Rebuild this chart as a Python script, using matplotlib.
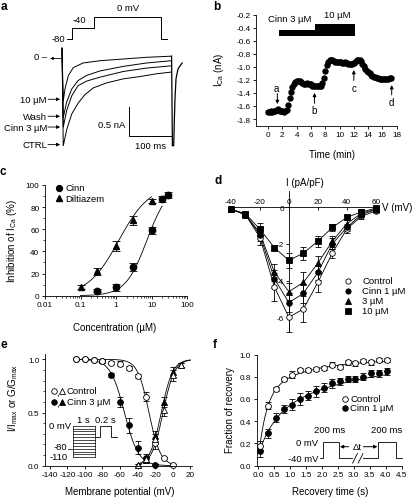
import numpy as np
import matplotlib
matplotlib.use('Agg')
import matplotlib.pyplot as plt
from matplotlib.ticker import MultipleLocator, LogLocator, NullFormatter, FixedLocator, FixedFormatter

plt.rcParams['font.family'] = ['Liberation Sans', 'DejaVu Sans']
plt.rcParams['mathtext.fontset'] = 'custom'
plt.rcParams['mathtext.rm'] = 'Liberation Sans'
plt.rcParams['mathtext.it'] = 'Liberation Sans:italic'
plt.rcParams['axes.unicode_minus'] = False
plt.rcParams['axes.linewidth'] = 0.6
for a in ['xtick', 'ytick']:
    plt.rcParams[a + '.major.width'] = 0.6
    plt.rcParams[a + '.minor.width'] = 0.5
    plt.rcParams[a + '.major.size'] = 2.5
    plt.rcParams[a + '.minor.size'] = 1.5
    plt.rcParams[a + '.labelsize'] = 5.9
    plt.rcParams[a + '.major.pad'] = 1.5

# ------------------------------------------------------------------ DATA
# panel a : current traces (time ms, current nA)
a_ctrl_t = [0, 3, 11, 23, 38, 54, 74, 106, 145, 184, 224, 259]
a_ctrl_i = [0.19, -1.53, -1.25, -0.97, -0.78, -0.63, -0.51, -0.42, -0.35, -0.31, -0.26, -0.23]
a_cinn3_t = [0, 3, 11, 23, 38, 58, 90, 145, 200, 259]
a_cinn3_i = [0.19, -1.20, -0.91, -0.65, -0.47, -0.39, -0.32, -0.22, -0.16, -0.12]
a_wash_t = [0, 3, 11, 23, 38, 58, 90, 145, 200, 259]
a_wash_i = [0.19, -1.03, -0.76, -0.53, -0.38, -0.29, -0.21, -0.13, -0.07, -0.03]
a_c10_t = [0, 3, 7, 15, 27, 50, 90, 145, 200, 259]
a_c10_i = [0.19, -0.74, -0.53, -0.29, -0.15, -0.07, -0.03, 0.0, 0.03, 0.05]
a_tail_t = [259, 261, 264, 265.5, 267, 269.5, 274, 279, 284]
a_tail_i = [0.05, -1.53, -1.53, -1.10, -0.71, -0.35, -0.18, -0.12, -0.07]
a_labels = ['10 \u00b5M', 'Wash', 'Cinn 3 \u00b5M', 'CTRL']
a_label_levels = [-0.71, -1.01, -1.20, -1.51]
a_prot_t = [0, 13, 13, 65, 65, 223, 223, 236]
a_prot_v = [-80, -80, -40, -40, 0, 0, -80, -80]

# panel b : time course
b_time = [0.0, 0.2, 0.4, 0.6, 0.8, 1.0, 1.2, 1.4, 1.6, 1.8, 2.0, 2.2, 2.4, 2.6, 2.8,
          3.0, 3.2, 3.4, 3.6, 3.8, 4.0, 4.2, 4.4, 4.6, 4.8, 5.0, 5.2, 5.4, 5.6, 5.8,
          6.0, 6.2, 6.4, 6.6, 6.8, 7.0, 7.2, 7.4, 7.6, 7.8, 8.0, 8.2, 8.4, 8.6, 8.8,
          9.0, 9.2, 9.4, 9.6, 9.8, 10.0, 10.2, 10.4, 10.6, 10.8, 11.0, 11.2, 11.4, 11.6, 11.8,
          12.0, 12.2, 12.4, 12.6, 12.8, 13.0, 13.2, 13.4, 13.6, 13.8, 14.0, 14.2, 14.4, 14.6, 14.8,
          15.0, 15.2, 15.4, 15.6, 15.8, 16.0, 16.2, 16.4, 16.6, 16.8, 17.0, 17.2]
b_ica = [-1.69, -1.69, -1.68, -1.69, -1.68, -1.67, -1.66, -1.65, -1.67, -1.68, -1.68, -1.69, -1.68, -1.66, -1.58,
         -1.48, -1.38, -1.31, -1.26, -1.23, -1.21, -1.21, -1.22, -1.24, -1.25, -1.26, -1.26, -1.25, -1.26, -1.27,
         -1.27, -1.29, -1.30, -1.30, -1.30, -1.30, -1.29, -1.29, -1.25, -1.17, -1.06, -0.97, -0.92, -0.90, -0.90,
         -0.90, -0.91, -0.92, -0.92, -0.93, -0.93, -0.93, -0.94, -0.94, -0.93, -0.94, -0.95, -0.95, -0.95, -0.95,
         -0.94, -0.92, -0.90, -0.89, -0.89, -0.91, -0.95, -0.99, -1.03, -1.06, -1.08, -1.10, -1.12, -1.14, -1.15,
         -1.16, -1.17, -1.17, -1.18, -1.18, -1.18, -1.19, -1.18, -1.18, -1.18, -1.17, -1.17]
b_drug_start = [1.55, 6.6]
b_drug_end = [6.6, 12.15]
b_drug_top = [-0.44, -0.34]
b_drug_bottom = -0.53
b_mark_labels = ['a', 'b', 'c', 'd']
b_mark_time = [1.3, 6.5, 12.0, 17.3]

# panel c : dose response
c_cinn_conc = [0.3, 1, 3, 10, 20, 30]
c_cinn_inh = [4.5, 7.5, 26, 59, 87.5, 91]
c_cinn_err = [1.5, 3.5, 3.5, 3.5, 3, 3]
c_dil_conc = [0.1, 0.3, 1, 3, 10]
c_dil_inh = [8, 22, 45, 68, 85.5]
c_dil_err = [1.5, 3, 4.5, 4, 1.5]
c_cinn_ic50, c_cinn_hill = 7.4, 1.45
c_dil_ic50, c_dil_hill = 1.2, 1.0

# panel d : I-V
d_v = [-40, -30, -20, -10, 0, 10, 20, 30, 40, 50, 60]
d_ctrl = [-0.1, -0.4, -1.65, -4.35, -6.0, -5.55, -4.1, -2.5, -1.18, -0.5, -0.2]
d_ctrl_err = [0.1, 0.15, 0.4, 0.75, 0.8, 0.7, 0.5, 0.25, 0.2, 0.15, 0.1]
d_c1 = [-0.1, -0.4, -1.5, -3.9, -5.2, -4.7, -3.55, -2.0, -1.1, -0.4, -0.13]
d_c1_err = [0.1, 0.15, 0.35, 0.5, 0.5, 0.5, 0.4, 0.3, 0.2, 0.15, 0.1]
d_c3 = [-0.1, -0.4, -1.4, -3.55, -4.6, -4.1, -3.05, -1.85, -0.9, -0.33, -0.1]
d_c3_err = [0.1, 0.15, 0.3, 0.45, 0.45, 0.55, 0.4, 0.3, 0.2, 0.15, 0.1]
d_c10 = [-0.1, -0.35, -1.2, -2.2, -2.9, -2.5, -1.85, -1.1, -0.55, -0.25, -0.05]
d_c10_err = [0.1, 0.15, 0.35, 0.15, 0.4, 0.35, 0.3, 0.2, 0.15, 0.15, 0.1]
d_legend = ['Control', 'Cinn 1 \u00b5M', '3 \u00b5M', '10 \u00b5M']

# panel e : steady-state inactivation / activation
e_inact_v = [-110, -100, -90, -80, -70, -60, -50, -40, -30, -20, -10, 0]
e_inact_ctrl = [1.0, 1.0, 0.99, 0.98, 0.97, 0.96, 0.92, 0.84, 0.65, 0.21, 0.07, 0.005]
e_inact_ctrl_err = [0.01, 0.01, 0.01, 0.01, 0.01, 0.02, 0.02, 0.02, 0.04, 0.05, 0.01, 0.01]
e_inact_cinn_v = [-110, -100, -90, -80, -70, -60, -50, -40, -30, -20]
e_inact_cinn = [1.0, 1.0, 0.99, 0.98, 0.85, 0.60, 0.38, 0.17, 0.07, 0.01]
e_inact_cinn_err = [0.01, 0.01, 0.01, 0.01, 0.02, 0.05, 0.07, 0.06, 0.04, 0.01]
e_act_v = [-40, -30, -20, -10, 0, 10]
e_act_ctrl = [0.01, 0.06, 0.25, 0.52, 0.85, 0.95]
e_act_ctrl_err = [0.01, 0.02, 0.05, 0.05, 0.05, 0.02]
e_act_cinn = [0.01, 0.05, 0.28, 0.60, 0.88, 0.95]
e_act_cinn_err = [0.01, 0.02, 0.05, 0.05, 0.05, 0.02]
e_fit_inact_ctrl = (-27.0, 6.5)
e_fit_inact_cinn = (-55.0, 8.0)
e_fit_act_ctrl = (-11.0, 6.5)
e_fit_act_cinn = (-13.0, 6.5)
e_prot_steps = [-110, -100, -90, -80, -70, -60, -50, -40, -30, -20, -10, 0]
e_prot_t = [1.0, 1.23, 1.23, 1.72, 1.72, 2.0]
e_prot_v = [-40, -40, 0, 0, -40, -40]

# panel f : recovery from inactivation
f_t = [0.05, 0.3, 0.55, 0.8, 1.05, 1.3, 1.55, 1.8, 2.05, 2.3, 2.55, 2.8, 3.05, 3.3, 3.55, 3.8, 4.05]
f_ctrl = [0.18, 0.54, 0.69, 0.78, 0.82, 0.86, 0.86, 0.87, 0.88, 0.91, 0.89, 0.93, 0.92, 0.94, 0.93, 0.95, 0.95]
f_ctrl_err = [0.04, 0.03, 0.02, 0.02, 0.03, 0.02, 0.02, 0.02, 0.02, 0.02, 0.02, 0.02, 0.02, 0.02, 0.02, 0.02, 0.02]
f_cinn = [0.13, 0.29, 0.43, 0.51, 0.55, 0.60, 0.63, 0.67, 0.70, 0.74, 0.76, 0.78, 0.78, 0.80, 0.83, 0.83, 0.85]
f_cinn_err = [0.05, 0.04, 0.04, 0.04, 0.05, 0.05, 0.04, 0.05, 0.04, 0.04, 0.03, 0.03, 0.03, 0.03, 0.03, 0.03, 0.03]
f_fit_ctrl = (0.96, 0.60, 0.25, 0.30, 1.5)
f_fit_cinn = (0.95, 0.35, 0.50, 0.50, 3.0)
f_prot_t = [-37, 0, 0, 200, 200, 358]
f_prot_t2 = [504, 692, 692, 910, 910, 985]
f_prot_v = [-40, -40, 0, 0, -40, -40]

# ------------------------------------------------------------------ FIGURE
W, H = 415, 502
fig = plt.figure(figsize=(W / 100, H / 100), dpi=100)


def rect(l, t, r, b):
    return [l / W, 1 - b / H, (r - l) / W, (b - t) / H]


LW = 0.6
FS_LAB = 7.0
FS_TXT = 6.8

# ---------------- panel a
axa = fig.add_axes(rect(40, 45, 200, 160))
axa.set_xlim(-52, 326.2)
axa.set_ylim(-1.7637, 0.2646)
axa.axis('off')
for tt, ii in [(a_ctrl_t, a_ctrl_i), (a_cinn3_t, a_cinn3_i), (a_wash_t, a_wash_i), (a_c10_t, a_c10_i)]:
    axa.plot(tt, ii, color='k', lw=0.7, clip_on=False)
axa.plot(a_tail_t, a_tail_i, color='k', lw=0.9, clip_on=False)
for lab, lev in zip(a_labels, a_label_levels):
    axa.text(-35.5, lev, lab, ha='right', va='center', fontsize=FS_TXT)
    axa.annotate('', xy=(-4.5, lev), xytext=(-33, lev),
                 arrowprops=dict(arrowstyle='-|>', lw=0.6, color='k', mutation_scale=5,
                                 shrinkA=0, shrinkB=0))
axa.text(-35.5, 0.05, '0 \u2013', ha='right', va='center', fontsize=FS_TXT)
axa.annotate('', xy=(-28, 0.01), xytext=(-2, 0.01),
             arrowprops=dict(arrowstyle='-|>', lw=0.6, color='k', mutation_scale=4,
                             shrinkA=0, shrinkB=0))
# scale bar 0.5 nA / 100 ms
axa.plot([159, 159, 259], [-0.853, -1.353, -1.353], color='k', lw=0.7)
axa.text(149, -1.15, '0.5 nA', ha='right', va='center', fontsize=FS_TXT)
axa.text(209, -1.53, '100 ms', ha='center', va='center', fontsize=FS_TXT)

axp = fig.add_axes(rect(60, 5, 175, 45))
axp.set_xlim(-15.8, 256)
axp.set_ylim(-98.5, 49)
axp.axis('off')
axp.plot(a_prot_t, a_prot_v, color='k', lw=0.7)
axp.text(-4, -80, '-80', ha='right', va='center', fontsize=FS_TXT)
axp.text(29, -9, '-40', ha='center', va='center', fontsize=FS_TXT)
axp.text(145, 37, '0 mV', ha='center', va='center', fontsize=FS_TXT)

# ---------------- panel b
axb = fig.add_axes(rect(256, 15.5, 396.7, 126.6))
axb.set_xlim(-1.69, 18)
axb.set_ylim(-1.9, -0.2)
for s in ['top', 'right']:
    axb.spines[s].set_visible(False)
axb.spines['left'].set_bounds(-1.9, -0.2)
axb.set_xticks(np.arange(0, 19, 2))
axb.set_yticks(np.arange(-1.8, -0.15, 0.2))
axb.yaxis.set_major_formatter(plt.FuncFormatter(lambda v, p: '%.1f' % v))
axb.plot(b_time, b_ica, 'o', color='k', ms=4.6, mew=0)
for s0, s1, top in zip(b_drug_start, b_drug_end, b_drug_top):
    axb.bar(s0, top - b_drug_bottom, width=s1 - s0, bottom=b_drug_bottom, align='edge',
            color='k', lw=0)
axb.text(2.98, -0.265, 'Cinn 3 \u00b5M', ha='center', va='center', fontsize=FS_TXT)
axb.text(9.7, -0.2, '10 \u00b5M', ha='center', va='center', fontsize=FS_TXT, clip_on=False)
arr = dict(arrowstyle='-|>', lw=0.7, color='k', mutation_scale=5, shrinkA=0, shrinkB=0)
axb.annotate('', xy=(b_mark_time[0], -1.57), xytext=(b_mark_time[0], -1.41), arrowprops=arr)
axb.text(b_mark_time[0] - 0.1, -1.33, b_mark_labels[0], ha='center', va='center', fontsize=FS_LAB)
axb.annotate('', xy=(b_mark_time[1], -1.40), xytext=(b_mark_time[1], -1.56), arrowprops=arr)
axb.text(b_mark_time[1], -1.665, b_mark_labels[1], ha='center', va='center', fontsize=FS_LAB)
axb.annotate('', xy=(b_mark_time[2], -1.05), xytext=(b_mark_time[2], -1.21), arrowprops=arr)
axb.text(b_mark_time[2], -1.32, b_mark_labels[2], ha='center', va='center', fontsize=FS_LAB)
axb.annotate('', xy=(b_mark_time[3], -1.28), xytext=(b_mark_time[3], -1.43), arrowprops=arr)
axb.text(b_mark_time[3], -1.54, b_mark_labels[3], ha='center', va='center', fontsize=FS_LAB)

# ---------------- panel c
axc = fig.add_axes(rect(45, 186, 187, 296.7))
axc.set_xscale('log')
axc.set_xlim(0.01, 100)
axc.set_ylim(0, 100)
for s in ['top', 'right']:
    axc.spines[s].set_visible(False)
axc.xaxis.set_major_locator(FixedLocator([0.01, 0.1, 1, 10, 100]))
axc.xaxis.set_major_formatter(FixedFormatter(['0.01', '0.1', '1', '10', '100']))
axc.xaxis.set_minor_locator(LogLocator(base=10, subs=np.arange(2, 10), numticks=20))
axc.xaxis.set_minor_formatter(NullFormatter())
axc.yaxis.set_major_locator(MultipleLocator(20))
axc.yaxis.set_minor_locator(MultipleLocator(10))
xc1 = np.logspace(-1, np.log10(20), 200)
xc2 = np.logspace(-1, 1, 200)
axc.plot(xc1, 100 / (1 + (c_cinn_ic50 / xc1) ** c_cinn_hill), color='k', lw=LW, clip_on=False)
axc.plot(xc2, 100 / (1 + (c_dil_ic50 / xc2) ** c_dil_hill), color='k', lw=LW, clip_on=False)
eb = dict(fmt='none', ecolor='k', elinewidth=0.6, capsize=2.6, capthick=0.6)
axc.errorbar(c_cinn_conc, c_cinn_inh, yerr=c_cinn_err, **eb)
axc.errorbar(c_dil_conc, c_dil_inh, yerr=c_dil_err, **eb)
axc.plot(c_cinn_conc, c_cinn_inh, 'o', color='k', ms=4.6, clip_on=False)
axc.plot(c_dil_conc, c_dil_inh, '^', color='k', ms=4.6, clip_on=False)

# ---------------- panel d
axd = fig.add_axes(rect(228.1, 190, 378.6, 336.6))
axd.set_xlim(-42, 62)
axd.set_ylim(-7, 1)
axd.patch.set_alpha(0)
axd.spines['right'].set_visible(False)
axd.spines['bottom'].set_visible(False)
axd.spines['left'].set_position(('data', 0))
axd.spines['top'].set_position(('data', 0))
axd.spines['left'].set_bounds(-6.8, 0.9)
axd.spines['top'].set_bounds(-41, 62)
axd.xaxis.set_ticks_position('top')
axd.yaxis.set_ticks_position('left')
axd.set_xticks([-40, -20, 0, 20, 40, 60])
axd.set_yticks([-6, -4, -2, 0])
axd.tick_params(axis='x', direction='in', length=2)
axd.tick_params(axis='y', direction='out', length=2)
ebd = dict(fmt='none', ecolor='k', elinewidth=0.6, capsize=2.3, capthick=0.6, zorder=2)
series_d = [(d_ctrl, d_ctrl_err, 'o', 'white'), (d_c1, d_c1_err, 'o', 'k'),
            (d_c3, d_c3_err, '^', 'k'), (d_c10, d_c10_err, 's', 'k')]
for yy, ee, mk_, fc in series_d:
    axd.errorbar(d_v, yy, yerr=ee, **ebd)
    axd.plot(d_v, yy, '-', color='k', lw=LW, zorder=3)
    axd.plot(d_v, yy, mk_, mfc=fc, mec='k', mew=0.6, ms=4.0, ls='none', zorder=4, clip_on=False)

# ---------------- panel e
axe = fig.add_axes(rect(45, 355, 192, 466.7))
axe.set_xlim(-145.5, 22)
axe.set_ylim(0, 1.05)
for s in ['top', 'right']:
    axe.spines[s].set_visible(False)
axe.set_xticks(np.arange(-140, 21, 20))
axe.set_yticks([0.0, 0.5, 1.0])
axe.yaxis.set_minor_locator(MultipleLocator(0.1))
axe.yaxis.set_major_formatter(plt.FuncFormatter(lambda v, p: '%.1f' % v))
vv = np.linspace(-110, 0, 300)
va = np.linspace(-40, 20, 200)
for (vh, kk) in [e_fit_inact_ctrl, e_fit_inact_cinn]:
    axe.plot(vv, 1 / (1 + np.exp((vv - vh) / kk)), color='k', lw=LW, clip_on=False)
for (vh, kk) in [e_fit_act_ctrl, e_fit_act_cinn]:
    axe.plot(va, 1 / (1 + np.exp(-(va - vh) / kk)), color='k', lw=LW, clip_on=False)
ebe = dict(fmt='none', ecolor='k', elinewidth=0.6, capsize=2.0, capthick=0.6)
axe.errorbar(e_inact_v, e_inact_ctrl, yerr=e_inact_ctrl_err, **ebe)
axe.errorbar(e_inact_cinn_v, e_inact_cinn, yerr=e_inact_cinn_err, **ebe)
axe.errorbar(e_act_v, e_act_ctrl, yerr=e_act_ctrl_err, **ebe)
axe.errorbar(e_act_v, e_act_cinn, yerr=e_act_cinn_err, **ebe)
mk = dict(ms=4.2, mew=0.6, mec='k', ls='none', clip_on=False)
axe.plot(e_inact_cinn_v, e_inact_cinn, 'o', mfc='k', **mk)
axe.plot(e_inact_v, e_inact_ctrl, 'o', mfc='white', **mk)
axe.plot(e_act_v, e_act_cinn, '^', mfc='k', **mk)
axe.plot(e_act_v, e_act_ctrl, '^', mfc='white', **mk)

axep = fig.add_axes(rect(45, 415, 125, 465))
axep.set_xlim(-1.304, 2.382)
axep.set_ylim(-133.3, 40.7)
axep.axis('off')
for st in e_prot_steps:
    axep.plot([0, 1], [st, st], color='k', lw=0.5)
axep.plot([0, 0], [min(e_prot_steps), max(e_prot_steps)], color='k', lw=0.5)
axep.plot([1, 1], [min(e_prot_steps), max(e_prot_steps)], color='k', lw=0.5)
axep.plot([-0.25, 0], [-80, -80], color='k', lw=0.5)
axep.plot(e_prot_t, e_prot_v, color='k', lw=0.6)
axep.text(-0.12, 0, '0 mV', ha='right', va='center', fontsize=FS_TXT)
axep.text(-0.3, -74, '-80', ha='right', va='center', fontsize=FS_TXT)
axep.text(-0.25, -106, '-110', ha='right', va='center', fontsize=FS_TXT)
axep.text(0.45, 20, '1 s', ha='center', va='center', fontsize=FS_TXT)
axep.text(1.47, 20, '0.2 s', ha='center', va='center', fontsize=FS_TXT)

# ---------------- panel f
axf = fig.add_axes(rect(256.7, 355.5, 401.7, 466.7))
axf.set_xlim(-0.05, 4.5)
axf.set_ylim(0, 1.0)
for s in ['top', 'right']:
    axf.spines[s].set_visible(False)
axf.set_xticks(np.arange(0, 4.51, 0.5))
axf.set_yticks(np.arange(0, 1.01, 0.2))
axf.xaxis.set_major_formatter(plt.FuncFormatter(lambda v, p: '%.1f' % v))
axf.yaxis.set_major_formatter(plt.FuncFormatter(lambda v, p: '%.1f' % v))
tf = np.linspace(0.05, 4.05, 300)
for (A, b1, t1, b2, t2) in [f_fit_ctrl, f_fit_cinn]:
    axf.plot(tf, A - b1 * np.exp(-tf / t1) - b2 * np.exp(-tf / t2), color='k', lw=LW)
ebf = dict(fmt='none', ecolor='k', elinewidth=0.6, capsize=2.0, capthick=0.6)
axf.errorbar(f_t, f_ctrl, yerr=f_ctrl_err, **ebf)
axf.errorbar(f_t, f_cinn, yerr=f_cinn_err, **ebf)
axf.plot(f_t, f_cinn, 'o', mfc='k', **mk)
axf.plot(f_t, f_ctrl, 'o', mfc='white', **mk)

axfp = fig.add_axes(rect(300, 420, 410, 470))
axfp.set_xlim(-287.5, 1087.5)
axfp.set_ylim(-66.75, 58.25)
axfp.axis('off')
axfp.plot(f_prot_t, f_prot_v, color='k', lw=0.6)
axfp.plot(f_prot_t2, f_prot_v, color='k', lw=0.6)
axfp.plot([370, 430], [-52, -28], color='k', lw=0.6)
axfp.plot([440, 500], [-52, -28], color='k', lw=0.6)
axfp.text(-62, 0, '0 mV', ha='right', va='center', fontsize=FS_TXT)
axfp.text(-62, -40, '-40 mV', ha='right', va='center', fontsize=FS_TXT)
axfp.text(87, 33, '200 ms', ha='center', va='center', fontsize=FS_TXT)
axfp.text(796, 33, '200 ms', ha='center', va='center', fontsize=FS_TXT)
axfp.annotate('', xy=(212, -11), xytext=(318, -11), arrowprops=arr)
axfp.annotate('', xy=(680, -11), xytext=(505, -11), arrowprops=arr)
axfp.text(425, -11, '\u0394t', ha='center', va='center', fontsize=FS_TXT)

# ---------------- overlay (labels, legends)
ov = fig.add_axes([0, 0, 1, 1], zorder=10)
ov.set_xlim(0, W)
ov.set_ylim(H, 0)
ov.axis('off')
ov.patch.set_alpha(0)
for letter, x, y in [('a', 4, 7), ('b', 217, 7), ('c', 3, 172), ('d', 218, 181), ('e', 4, 345), ('f', 215, 345)]:
    ov.text(x, y, letter, fontsize=8.5, fontweight='bold', ha='center', va='center')

ov.text(219, 70, r'I$_{\mathrm{Ca}}$ (nA)', rotation=90, ha='center', va='center', fontsize=FS_LAB)
ov.text(332, 155, 'Time (min)', ha='center', va='center', fontsize=FS_LAB)
ov.text(12, 241, r'Inhibition of I$_{\mathrm{Ca}}$ (%)', rotation=90, ha='center', va='center', fontsize=FS_LAB)
ov.text(115, 328, 'Concentration (\u00b5M)', ha='center', va='center', fontsize=FS_LAB)
ov.text(305, 183, 'I (pA/pF)', ha='center', va='center', fontsize=FS_LAB)
ov.text(382, 208, 'V (mV)', ha='left', va='center', fontsize=FS_LAB)
ov.text(13, 398, r'I/I$_{\mathrm{max}}$ or G/G$_{\mathrm{max}}$', rotation=90, ha='center', va='center', fontsize=FS_LAB)
ov.text(120, 492, 'Membrane potential (mV)', ha='center', va='center', fontsize=FS_LAB)
ov.text(230, 410, 'Fraction of recovery', rotation=90, ha='center', va='center', fontsize=FS_LAB)
ov.text(330, 492, 'Recovery time (s)', ha='center', va='center', fontsize=FS_LAB)

# legend c
ov.plot([59], [189], 'o', color='k', ms=4.2)
ov.plot([59], [199.3], '^', color='k', ms=4.2)
ov.text(65, 189, 'Cinn', ha='left', va='center', fontsize=FS_TXT)
ov.text(65, 199.3, 'Diltiazem', ha='left', va='center', fontsize=FS_TXT)

# legend d
for (lab, yy, (ydat, ee, mkr, fc)) in zip(d_legend, [282, 292, 302, 311.5], series_d):
    ov.plot([348], [yy], mkr, mfc=fc, mec='k', mew=0.6, ms=3.8)
    ov.text(362, yy, lab, ha='left', va='center', fontsize=FS_TXT)

# legend e
ov.plot([53.5], [392], 'o', mfc='white', mec='k', mew=0.6, ms=4.0)
ov.plot([61.5], [392], '^', mfc='white', mec='k', mew=0.6, ms=4.0)
ov.text(57.3, 393, ',', ha='center', va='center', fontsize=FS_TXT)
ov.text(66.5, 392, 'Control', ha='left', va='center', fontsize=FS_TXT)
ov.plot([53.5], [403], 'o', mfc='k', mec='k', mew=0.6, ms=4.0)
ov.plot([61.5], [403], '^', mfc='k', mec='k', mew=0.6, ms=4.0)
ov.text(57.3, 404, ',', ha='center', va='center', fontsize=FS_TXT)
ov.text(66.5, 403, 'Cinn 3 \u00b5M', ha='left', va='center', fontsize=FS_TXT)

# legend f
ov.plot([345], [400], 'o', mfc='white', mec='k', mew=0.6, ms=4.0)
ov.plot([345], [408.5], 'o', mfc='k', mec='k', mew=0.6, ms=4.0)
ov.text(350, 400, 'Control', ha='left', va='center', fontsize=FS_TXT)
ov.text(350, 408.5, 'Cinn 1 \u00b5M', ha='left', va='center', fontsize=FS_TXT)

fig.savefig('out.png', dpi=100)
